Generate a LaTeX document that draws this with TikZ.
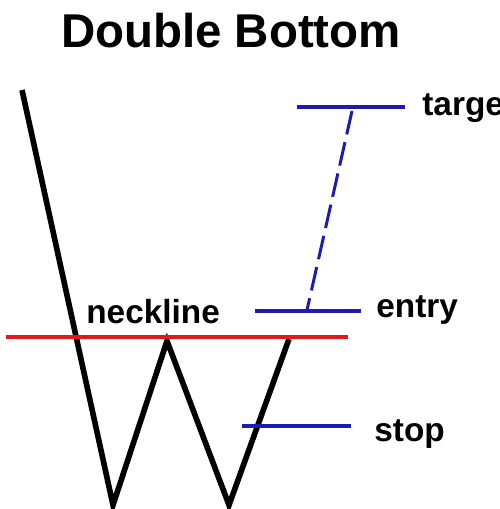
\documentclass[tikz,border=0pt]{standalone}
\usepackage{fontspec}
\setmainfont{Liberation Sans}
\usetikzlibrary{positioning}
\definecolor{lvlblue}{RGB}{28,28,175}
\definecolor{neckred}{RGB}{225,25,25}
\tikzset{
  price/.style={line width=3.2pt,line join=miter,black},
  neck/.style={line width=2.8pt,neckred},
  lvl/.style={line width=2.5pt,lvlblue},
  proj/.style={line width=1.7pt,lvlblue,dash pattern=on 0.48cm off 0.16cm},
  ttl/.style={font=\bfseries\fontsize{27}{30}\selectfont,anchor=base,inner sep=0pt},
  lbl/.style={font=\bfseries\fontsize{19}{22}\selectfont,anchor=base west,inner sep=0pt},
}
\begin{document}
\begin{tikzpicture}[x=0.02cm,y=-0.02cm]
  \useasboundingbox (0,0) rectangle (499,509);
  \clip (0,0) rectangle (499,509);
  \node[ttl] (title) at (231,48) {Double Bottom};
  % the W
  \coordinate (p0) at (22,90);
  \coordinate (b1) at (113,505);
  \coordinate (pk) at (167,341);
  \coordinate (b2) at (229,505);
  \coordinate (p4) at (289,339);
  \draw[price] (p0) -- (b1) -- (pk) -- (b2) -- (p4);
  % neckline
  \coordinate (n0) at (6,337);
  \coordinate (n1) at (348,337);
  \draw[neck] (n0) -- (n1);
  \node[lbl] (necktxt) at (86,323) {neckline};
  % levels
  \coordinate (tgtL) at (297,107);
  \coordinate (tgtR) at (405,107);
  \coordinate (entL) at (255,311);
  \coordinate (entR) at (361,311);
  \coordinate (stpL) at (242,426);
  \coordinate (stpR) at (351,426);
  \draw[lvl] (tgtL) -- (tgtR);
  \draw[lvl] (entL) -- (entR);
  \draw[lvl] (stpL) -- (stpR);
  \coordinate (tgtm) at (352,111);
  \coordinate (entm) at (307,310);
  \draw[proj] (tgtm) -- (entm);
  \node[lbl] (tgttxt) at (422,116) {target};
  \node[lbl] (enttxt) at (376,317) {entry};
  \node[lbl] (stptxt) at (374,441) {stop};
\end{tikzpicture}
\end{document}
